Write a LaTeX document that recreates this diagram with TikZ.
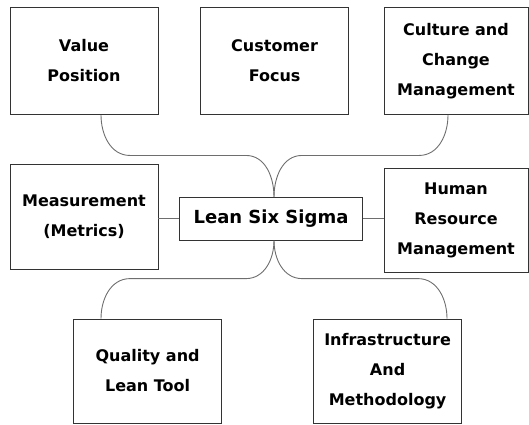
\documentclass[tikz,border=0pt]{standalone}
\usepackage{fontspec}
\setmainfont{DejaVu Sans}
\usepackage{xcolor}
\definecolor{boxline}{HTML}{333333}
\definecolor{linkline}{HTML}{6E6E6E}
\tikzset{
  topic/.style={draw=boxline, line width=0.9pt, align=center, inner sep=0pt,
    font=\fontsize{16}{30}\selectfont\bfseries},
  link/.style={draw=linkline, line width=0.9pt}
}

\begin{document}
\begin{tikzpicture}[x=1pt,y=-1pt]
      \useasboundingbox (0,0) rectangle (529,424);
      \node (vp) [topic, minimum width=148, minimum height=107] at (84,61) {Value\\Position};
      \node (cf) [topic, minimum width=148, minimum height=107] at (274.6,61) {Customer\\Focus};
      \node (ccm) [topic, minimum width=144, minimum height=107] at (456,61) {Culture and\\Change\\Management};
      \node (mm) [topic, minimum width=148, minimum height=104.5] at (84,216.8) {Measurement\\(Metrics)};
      \node (lss) [topic, minimum width=183.4, minimum height=42.7,
        font=\fontsize{18}{20}\selectfont\bfseries] at (271,218.8) {Lean Six Sigma};
      \node (hrm) [topic, minimum width=144, minimum height=104] at (456,220.6) {Human\\Resource\\Management};
      \node (qlt) [topic, minimum width=148, minimum height=104] at (147.6,371) {Quality and\\Lean Tool};
      \node (imt) [topic, minimum width=148, minimum height=104] at (387.6,371) {Infrastructure\\And\\Methodology};
      % branches above the centre
      \draw[link] ([xshift=17]vp.south) to[out=-90,in=180] ++(29,40.5) -- ++(116,0)
        to[out=0,in=90] ([xshift=3]lss.north);
      \draw[link] ([xshift=-8]ccm.south) to[out=-90,in=0] ++(-29,40.5) -- ++(-117,0)
        to[out=180,in=90] ([xshift=3]lss.north);
      % branches below the centre
      \draw[link] ([xshift=3]lss.south) to[out=-90,in=0] ++(-28,38) -- ++(-116,0)
        to[out=180,in=90] ([xshift=-46.6]qlt.north);
      \draw[link] ([xshift=3]lss.south) to[out=-90,in=180] ++(28,38) -- ++(116,0)
        to[out=0,in=90] ([xshift=59.4]imt.north);
      \draw[link] (lss.west) -- (lss.west -| mm.east);
      \draw[link] (lss.east) -- (lss.east -| hrm.west);
\end{tikzpicture}
\end{document}
